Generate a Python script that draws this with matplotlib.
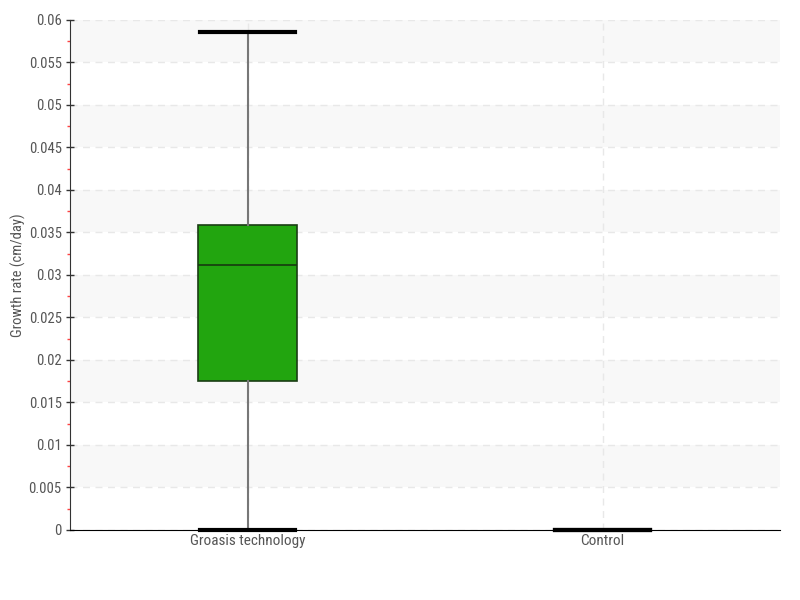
import matplotlib
matplotlib.use("Agg")
import matplotlib.pyplot as plt
import numpy as np
from matplotlib import font_manager

categories = ["Groasis technology", "Control"]
whisker_low = [0.0, 0.0]
q1 = [0.0175, 0.0]
median = [0.0312, 0.0]
q3 = [0.0359, 0.0]
whisker_high = [0.0586, 0.0]

names = {f.name for f in font_manager.fontManager.ttflist}
fam = [f for f in ["Roboto Condensed", "Liberation Sans Narrow", "Open Sans Condensed", "DejaVu Sans"] if f in names]
plt.rcParams['font.family'] = fam

fig = plt.figure(figsize=(8, 6), dpi=100)
ax = fig.add_axes([0.0875, 0.1167, 0.8875, 0.85])

ymax = 0.06
yticks = np.arange(0, 0.0601, 0.005)
# alternating bands
for i in range(len(yticks) - 1):
    if i % 2 == 1:
        ax.axhspan(yticks[i], yticks[i + 1], color="#f8f8f8", zorder=0, lw=0)

stats = []
for i, c in enumerate(categories):
    stats.append(dict(label=c, whislo=whisker_low[i], q1=q1[i], med=median[i],
                      q3=q3[i], whishi=whisker_high[i], fliers=[]))

res = ax.bxp(stats, positions=range(len(categories)), widths=0.28, patch_artist=True,
             showfliers=False, capwidths=0.27,
             boxprops=dict(facecolor="#22a50f", edgecolor="#1a3d14", linewidth=1.2),
             medianprops=dict(color="#163a10", linewidth=1.2),
             whiskerprops=dict(color="#777777", linewidth=1.5),
             capprops=dict(color="black", linewidth=3),
             zorder=3)
for cap in res["caps"]:
    cap.set_clip_on(False)
    cap.set_zorder(5)

ax.set_xlim(-0.5, 1.5)
ax.set_ylim(0, ymax)
ax.set_yticks(yticks)
ax.set_yticklabels(["0" if v == 0 else ("%.3f" % v).rstrip("0") for v in yticks])
ax.set_yticks(yticks[:-1] + 0.0025, minor=True)
ax.tick_params(axis="y", which="major", direction="inout", length=6, width=1,
               color="#333333", labelcolor="#555555", labelsize=10.5, pad=3)
ax.tick_params(axis="y", which="minor", direction="out", length=2, width=1, color="#ff4444")
ax.tick_params(axis="x", length=0, labelcolor="#555555", labelsize=11, pad=3)

ax.grid(True, axis="y", which="major", linestyle=(0, (5, 4)), color="#e8e8e8", linewidth=1, zorder=1)
ax.grid(True, axis="x", linestyle=(0, (5, 4)), color="#e8e8e8", linewidth=1, zorder=1)
ax.set_axisbelow(True)

for s in ["top", "right"]:
    ax.spines[s].set_visible(False)
ax.spines["left"].set_color("#333333")
ax.spines["bottom"].set_color("black")

ax.set_ylabel("Growth rate (cm/day)", fontsize=10.5, color="#555555")
ax.yaxis.set_label_coords(-0.062, 0.5)

fig.savefig("out.png", dpi=100)
